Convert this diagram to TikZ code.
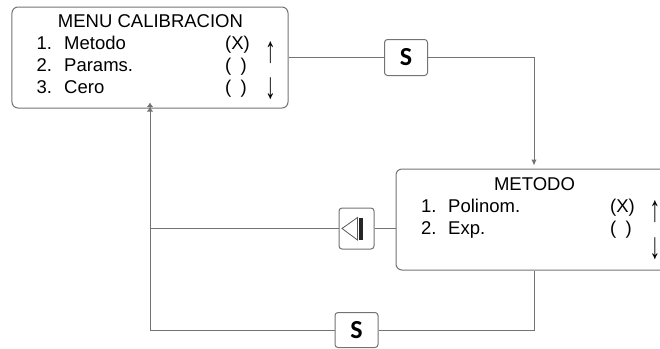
\documentclass[tikz,border=0pt]{standalone}
\usepackage{fontspec}
\setmainfont{Liberation Sans}
\newfontfamily\keyfont{Carlito}
\usetikzlibrary{arrows.meta}
\definecolor{lc}{RGB}{115,115,115}
\definecolor{gc}{RGB}{90,90,90}
\newcommand{\tallarrow}[1]{\scalebox{1.15}[2.0]{#1}}
\begin{document}
\begin{tikzpicture}[x=1bp,y=-1bp,
  menubox/.style={draw=lc,line width=1bp,rounded corners=6bp,inner sep=0,minimum width=276bp,minimum height=101bp},
  keybox/.style={draw=lc,line width=1bp,rounded corners=3bp,fill=white,inner sep=0},
  conn/.style={draw=lc,line width=1bp},
  tipa/.style={-{Latex[length=6bp,width=5.5bp]}},
  tipb/.style={-{Latex[length=4.5bp,width=6.5bp]Latex[length=4.5bp,width=6.5bp]}},
  txt/.style={anchor=base west,inner sep=0,font=\fontsize{18.5bp}{22bp}\selectfont},
  ttl/.style={anchor=base,inner sep=0,font=\fontsize{18.5bp}{22bp}\selectfont},
  arr/.style={ttl,text height=19bp,text depth=1bp},
  skey/.style={keybox,font=\keyfont\bfseries\fontsize{26bp}{26bp}\selectfont}
]
\useasboundingbox (0,0) rectangle (660,348);

% menu boxes
\node[menubox] (m1) at (150,57.5) {};
\node[menubox] (m2) at (534,219.5) {};

% key boxes
\node[skey,minimum width=43bp,minimum height=36bp] (s1) at (406,57.5) {S};
\node[keybox,minimum width=35bp,minimum height=41bp] (bk) at (356.5,228.5) {};
\node[skey,minimum width=43bp,minimum height=35bp] (s2) at (356.5,330) {S};

% back glyph
\draw[gc,line width=0.8bp,line join=miter] ([shift={(-14.5,0)}]bk.center) -- ([shift={(1,-11)}]bk.center) -- ([shift={(1,11.5)}]bk.center) -- cycle;
\fill[black!85] ([shift={(2.2,-11)}]bk.center) rectangle ([shift={(6.3,11.5)}]bk.center);

% junction coordinates
\coordinate (j1) at (150,228.5);
\coordinate (j2) at (150,330);

% connectors
\draw[conn] (m1.east) -- (s1.west);
\draw[conn,tipa] (s1.east) -| ([yshift=3bp]m2.north);
\draw[conn] (bk.east) -- (bk.east -| m2.west);
\draw[conn] (bk.west) -- (j1);
\draw[conn] (m2.south) |- (s2.east);
\draw[conn,tipb] (s2.west) -- (j2) -- ([yshift=6bp]m1.south -| j2);

% texts of box 1
\node[ttl] (t0) at (150.5,27) {MENU CALIBRACION};
\node[txt] (t1n) at (36.5,49.5) {1.};
\node[txt] (t1) at (64,49.5) {Metodo};
\node[txt] (t1x) at (225,49.5) {(X)};
\node[txt] (t2n) at (36.5,71.5) {2.};
\node[txt] (t2) at (64,71.5) {Params.};
\node[txt] (t2x) at (225,71.5) {(\hspace{0.5em})};
\node[txt] (t3n) at (36.5,93.5) {3.};
\node[txt] (t3) at (64,93.5) {Cero};
\node[txt] (t3x) at (225,93.5) {(\hspace{0.5em})};
\node[arr] (au1) at (270.5,62) {\tallarrow{↑}};
\node[arr] (ad1) at (270.5,98) {\tallarrow{↓}};

% texts of box 2
\node[ttl] (u0) at (534.5,190) {METODO};
\node[txt] (u1n) at (421,212) {1.};
\node[txt] (u1) at (448,212) {Polinom.};
\node[txt] (u1x) at (610,212) {(X)};
\node[txt] (u2n) at (421,234.5) {2.};
\node[txt] (u2) at (448,234.5) {Exp.};
\node[txt] (u2x) at (610,234.5) {(\hspace{0.5em})};
\node[arr] (au2) at (655,221) {\tallarrow{↑}};
\node[arr] (ad2) at (655,258.5) {\tallarrow{↓}};
\end{tikzpicture}
\end{document}
